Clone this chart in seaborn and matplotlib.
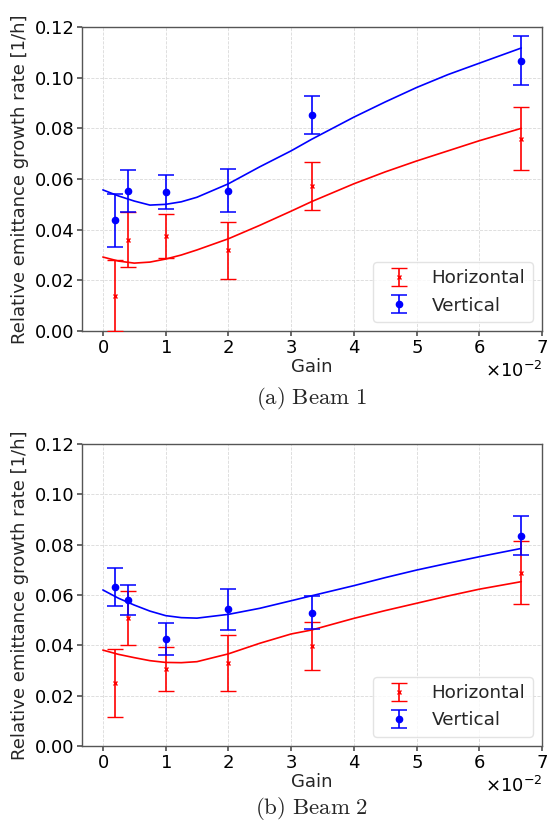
import matplotlib
matplotlib.use("Agg")
import matplotlib.pyplot as plt
import seaborn as sns
import numpy as np
import pandas as pd

# ---------------- data ----------------
gain = [0.002, 0.004, 0.01, 0.02, 0.0333, 0.0667]

b1_h = [0.0140, 0.0360, 0.0376, 0.0319, 0.0573, 0.0759]
b1_h_err = [0.0140, 0.0109, 0.0087, 0.0113, 0.0096, 0.0124]
b1_v = [0.0437, 0.0553, 0.0547, 0.0553, 0.0852, 0.1067]
b1_v_err = [0.0105, 0.0083, 0.0067, 0.0085, 0.0076, 0.0096]

b2_h = [0.0252, 0.0507, 0.0306, 0.0329, 0.0398, 0.0689]
b2_h_err = [0.0135, 0.0107, 0.0086, 0.0112, 0.0095, 0.0124]
b2_v = [0.0632, 0.0581, 0.0425, 0.0543, 0.0530, 0.0836]
b2_v_err = [0.0075, 0.0060, 0.0063, 0.0082, 0.0064, 0.0077]

fit_gain = [0.0, 0.0025, 0.005, 0.0075, 0.01, 0.0125, 0.015, 0.02, 0.025, 0.03,
            0.0333, 0.04, 0.045, 0.05, 0.055, 0.06, 0.0667]
b1_h_fit = [0.0292, 0.0276, 0.0268, 0.0272, 0.0284, 0.0300, 0.0320, 0.0364, 0.0417,
            0.0473, 0.0511, 0.0581, 0.0628, 0.0671, 0.0711, 0.0751, 0.0800]
b1_v_fit = [0.0557, 0.0533, 0.0513, 0.0497, 0.0500, 0.0510, 0.0528, 0.0581, 0.0648,
            0.0711, 0.0757, 0.0844, 0.0904, 0.0961, 0.1012, 0.1057, 0.1117]
b2_h_fit = [0.0381, 0.0364, 0.0351, 0.0339, 0.0332, 0.0331, 0.0335, 0.0366, 0.0408,
            0.0445, 0.0461, 0.0507, 0.0538, 0.0567, 0.0596, 0.0623, 0.0653]
b2_v_fit = [0.0620, 0.0587, 0.0560, 0.0536, 0.0518, 0.0510, 0.0508, 0.0523, 0.0547,
            0.0577, 0.0597, 0.0637, 0.0669, 0.0699, 0.0726, 0.0752, 0.0785]

captions = ["(a) Beam 1", "(b) Beam 2"]
yticks = [0.00, 0.02, 0.04, 0.06, 0.08, 0.10, 0.12]

# ---------------- style ----------------
sns.set_theme(style="whitegrid")
plt.rcParams["font.family"] = ["DejaVu Sans"]
plt.rcParams["mathtext.fontset"] = "dejavusans"
plt.rcParams.update({
    "axes.edgecolor": "#555555",
    "axes.linewidth": 1.0,
    "grid.color": "#d9d9d9",
    "grid.linestyle": "--",
    "grid.linewidth": 0.6,
    "xtick.bottom": True,
    "ytick.left": True,
    "xtick.major.size": 3.5,
    "ytick.major.size": 3.5,
    "xtick.color": "#555555",
    "ytick.color": "#555555",
    "xtick.labelcolor": "black",
    "ytick.labelcolor": "black",
})

fig = plt.figure(figsize=(5.48, 8.23), dpi=100)
ax1 = fig.add_axes([0.1496, 0.5978, 0.8394, 0.3694])
ax2 = fig.add_axes([0.1496, 0.0936, 0.8394, 0.3669])

datasets = [
    (ax1, b1_h, b1_h_err, b1_v, b1_v_err, b1_h_fit, b1_v_fit),
    (ax2, b2_h, b2_h_err, b2_v, b2_v_err, b2_h_fit, b2_v_fit),
]

for i, (ax, h, he, v, ve, hf, vf) in enumerate(datasets):
    ax.errorbar(gain, h, yerr=he, fmt="x", color="red", markersize=3.5,
                markeredgewidth=1.0, elinewidth=1.2, capsize=6, capthick=1.1,
                label="Horizontal", zorder=3)
    ax.errorbar(gain, v, yerr=ve, fmt="o", color="blue", markersize=4.5,
                elinewidth=1.2, capsize=6, capthick=1.1,
                label="Vertical", zorder=3)
    dfh = pd.DataFrame({"g": fit_gain, "r": hf})
    dfv = pd.DataFrame({"g": fit_gain, "r": vf})
    sns.lineplot(data=dfh, x="g", y="r", ax=ax, color="red", linewidth=1.2,
                 legend=False, zorder=2)
    sns.lineplot(data=dfv, x="g", y="r", ax=ax, color="blue", linewidth=1.2,
                 legend=False, zorder=2)

    ax.set_ylim(0, 0.12)
    ax.set_xlim(-0.00333, 0.0700)
    ax.set_yticks(yticks)
    ax.set_yticklabels([f"{t:.2f}" for t in yticks])
    ax.ticklabel_format(axis="x", style="sci", scilimits=(0, 0), useMathText=True)
    ax.xaxis.get_offset_text().set_fontsize(13)
    ax.tick_params(axis="both", labelsize=13, pad=2)
    ax.set_xlabel("Gain", fontsize=13, labelpad=1)
    ax.set_ylabel("Relative emittance growth rate [1/h]", fontsize=13, labelpad=4)
    ax.grid(True)
    leg = ax.legend(loc="lower right", fontsize=13.2, frameon=True,
                    fancybox=True, framealpha=0.8, edgecolor="#dddddd")

fig.text(0.569, 1 - 399 / 823, r"$\mathrm{(a)\ Beam\ 1}$", ha="center",
         va="center", fontsize=16.5, math_fontfamily="cm")
fig.text(0.569, 1 - 808 / 823, r"$\mathrm{(b)\ Beam\ 2}$", ha="center",
         va="center", fontsize=16.5, math_fontfamily="cm")

fig.savefig("out.png", dpi=100)
